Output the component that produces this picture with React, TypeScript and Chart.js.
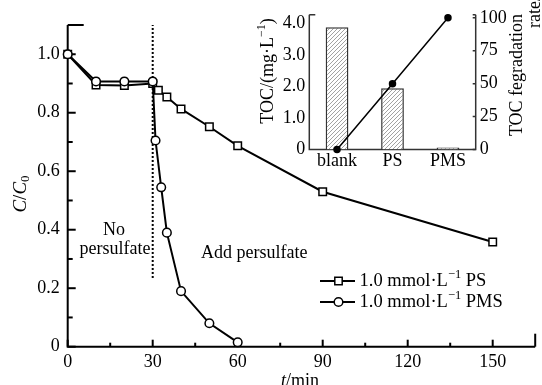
import React, { useEffect, useRef } from 'react';
import { Chart, registerables } from 'chart.js';
Chart.register(...registerables);

const FONT = "'Liberation Serif', 'Times New Roman', serif";

// Main chart data
const psTime = [0, 10, 20, 30, 32, 35, 40, 50, 60, 90, 150];
const psValues = [1.0, 0.895, 0.893, 0.9, 0.877, 0.854, 0.813, 0.752, 0.687, 0.53, 0.358];
const pmsTime = [0, 10, 20, 30, 31, 33, 35, 40, 50, 60];
const pmsValues = [1.0, 0.907, 0.907, 0.907, 0.705, 0.545, 0.39, 0.19, 0.08, 0.015];
const xTicks = [0, 15, 30, 45, 60, 75, 90, 105, 120, 135, 150, 165];
const xTickLabels = ['0', '', '30', '', '60', '', '90', '', '120', '', '150', ''];
const yTicks = [0, 0.1, 0.2, 0.3, 0.4, 0.5, 0.6, 0.7, 0.8, 0.9, 1.0, 1.1];
const yTickLabels = ['0', '', '0.2', '', '0.4', '', '0.6', '', '0.8', '', '1.0', ''];
const legendLabels = ['1.0 mmol·L', '1.0 mmol·L'];
const legendSuffix = [' PS', ' PMS'];

// Inset data
const tocCategories = ['blank', 'PS', 'PMS'];
const tocValues = [3.875, 1.94, 0.06];
const tocRate = [0, 50, 100];
const tocTicks = [0, 1, 2, 3, 4];
const tocTickLabels = ['0', '1.0', '2.0', '3.0', '4.0'];
const rateTicks = [0, 25, 50, 75, 100];

function drawRich(ctx: CanvasRenderingContext2D, parts: { t: string; f: string; dy?: number }[], x: number, y: number, align: 'left' | 'center') {
  let w = 0;
  for (const p of parts) { ctx.font = p.f; w += ctx.measureText(p.t).width; }
  let cx = align === 'center' ? x - w / 2 : x;
  ctx.textAlign = 'left';
  for (const p of parts) {
    ctx.font = p.f;
    ctx.fillText(p.t, cx, y + (p.dy || 0));
    cx += ctx.measureText(p.t).width;
  }
}

export default function App() {
  const mainRef = useRef<HTMLCanvasElement>(null);
  const insetRef = useRef<HTMLCanvasElement>(null);

  useEffect(() => {
    document.body.style.margin = '0';
    Chart.defaults.font.family = FONT;
    Chart.defaults.color = '#000';

    const mainDecor = {
      id: 'mainDecor',
      beforeDatasetsDraw(chart: any) {
        const ctx = chart.ctx as CanvasRenderingContext2D;
        const a = chart.chartArea;
        const xs = chart.scales.x;
        const ys = chart.scales.y;
        ctx.save();
        ctx.strokeStyle = '#000';
        ctx.lineWidth = 2;
        ctx.beginPath();
        ctx.moveTo(a.left, a.top);
        ctx.lineTo(a.left, a.bottom);
        ctx.lineTo(a.right, a.bottom);
        ctx.stroke();
        // y ticks (inward)
        yTicks.forEach((v, i) => {
          const py = ys.getPixelForValue(v);
          let len = yTickLabels[i] ? 8 : 5;
          if (i === yTicks.length - 1) len = 16;
          ctx.beginPath();
          ctx.moveTo(a.left, py);
          ctx.lineTo(a.left + len, py);
          ctx.stroke();
        });
        xTicks.forEach((v, i) => {
          const px = xs.getPixelForValue(v);
          let len = xTickLabels[i] ? 7 : 4;
          if (i === xTicks.length - 1) len = 13;
          ctx.beginPath();
          ctx.moveTo(px, a.bottom);
          ctx.lineTo(px, a.bottom - len);
          ctx.stroke();
        });
        // dotted divider at t = 30
        const dx = xs.getPixelForValue(30);
        ctx.setLineDash([2, 2]);
        ctx.beginPath();
        ctx.moveTo(dx, ys.getPixelForValue(0.235));
        ctx.lineTo(dx, ys.getPixelForValue(1.1));
        ctx.stroke();
        ctx.restore();
      },
      afterDraw(chart: any) {
        const ctx = chart.ctx as CanvasRenderingContext2D;
        ctx.save();
        ctx.fillStyle = '#000';
        ctx.textBaseline = 'middle';
        ctx.font = `18px ${FONT}`;
        ctx.textAlign = 'center';
        ctx.fillText('No', 114, 230);
        ctx.fillText('persulfate', 115, 249);
        ctx.textAlign = 'left';
        ctx.fillText('Add persulfate', 201, 253);

        // legend
        const rows = [281, 302];
        const styles = ['rect', 'circle'];
        rows.forEach((ry, i) => {
          ctx.strokeStyle = '#000';
          ctx.lineWidth = 2;
          ctx.beginPath();
          ctx.moveTo(320, ry);
          ctx.lineTo(355, ry);
          ctx.stroke();
          ctx.fillStyle = '#fff';
          ctx.lineWidth = 1.5;
          ctx.beginPath();
          if (styles[i] === 'rect') ctx.rect(338.5 - 3.7, ry - 3.7, 7.4, 7.4);
          else ctx.arc(338.5, ry, 4.3, 0, Math.PI * 2);
          ctx.fill();
          ctx.stroke();
          ctx.fillStyle = '#000';
          ctx.textBaseline = 'middle';
          drawRich(ctx, [
            { t: legendLabels[i], f: `18.5px ${FONT}` },
            { t: '−1', f: `12.5px ${FONT}`, dy: -6 },
            { t: legendSuffix[i], f: `18.5px ${FONT}` },
          ], 359.5, ry, 'left');
        });

        // y title
        ctx.save();
        ctx.translate(21, 194);
        ctx.rotate(-Math.PI / 2);
        ctx.textBaseline = 'middle';
        drawRich(ctx, [
          { t: 'C', f: `italic 19px ${FONT}` },
          { t: '/', f: `19px ${FONT}` },
          { t: 'C', f: `italic 19px ${FONT}` },
          { t: '0', f: `13px ${FONT}`, dy: 5 },
        ], 0, 0, 'center');
        ctx.restore();

        // x title
        ctx.textBaseline = 'alphabetic';
        drawRich(ctx, [
          { t: 't', f: `italic 18px ${FONT}` },
          { t: '/min', f: `18px ${FONT}` },
        ], 300, 386, 'center');
        ctx.restore();
      },
    };

    const main = new Chart(mainRef.current!, {
      type: 'line',
      data: {
        datasets: [
          {
            label: '1.0 mmol·L−1 PMS',
            data: pmsTime.map((t, i) => ({ x: t, y: pmsValues[i] })),
            borderColor: '#000',
            borderWidth: 2,
            pointStyle: 'circle',
            pointRadius: 4.3,
            pointBackgroundColor: '#fff',
            pointBorderColor: '#000',
            pointBorderWidth: 1.5,
            tension: 0,
            clip: false,
            order: 0,
          },
          {
            label: '1.0 mmol·L−1 PS',
            data: psTime.map((t, i) => ({ x: t, y: psValues[i] })),
            borderColor: '#000',
            borderWidth: 2,
            pointStyle: 'rect',
            pointRadius: 5.3,
            pointBackgroundColor: '#fff',
            pointBorderColor: '#000',
            pointBorderWidth: 1.5,
            tension: 0,
            clip: false,
            order: 1,
          },
        ],
      },
      options: {
        animation: false,
        responsive: false,
        events: [],
        layout: { padding: { top: 25, right: 0, left: 0, bottom: 0 } },
        plugins: { legend: { display: false }, tooltip: { enabled: false } },
        scales: {
          x: {
            type: 'linear',
            min: 0,
            max: 165,
            afterBuildTicks: (s: any) => { s.ticks = xTicks.map((v) => ({ value: v })); },
            afterFit: (s: any) => { s.height = 38.3; },
            grid: { display: false, drawTicks: false },
            border: { display: false },
            ticks: {
              autoSkip: false,
              maxRotation: 0,
              padding: 5,
              font: { size: 18, family: FONT },
              color: '#000',
              callback: (v: any, i: number) => xTickLabels[i],
            },
          },
          y: {
            type: 'linear',
            min: 0,
            max: 1.1,
            afterBuildTicks: (s: any) => { s.ticks = yTicks.map((v) => ({ value: v })); },
            afterFit: (s: any) => { s.width = 67.7; },
            grid: { display: false, drawTicks: false },
            border: { display: false },
            ticks: {
              autoSkip: false,
              padding: 8,
              font: { size: 18, family: FONT },
              color: '#000',
              callback: (v: any, i: number) => yTickLabels[i],
            },
          },
        },
      },
      plugins: [mainDecor],
    } as any);

    // hatch pattern for inset bars
    const pc = document.createElement('canvas');
    pc.width = 4;
    pc.height = 4;
    const g = pc.getContext('2d')!;
    g.fillStyle = '#fff';
    g.fillRect(0, 0, 4, 4);
    g.strokeStyle = '#8a8a8a';
    g.lineWidth = 0.8;
    g.beginPath();
    g.moveTo(0, 4); g.lineTo(4, 0);
    g.moveTo(-1, 1); g.lineTo(1, -1);
    g.moveTo(3, 5); g.lineTo(5, 3);
    g.stroke();
    const pattern = insetRef.current!.getContext('2d')!.createPattern(pc, 'repeat');

    const insetDecor = {
      id: 'insetDecor',
      beforeDatasetsDraw(chart: any) {
        const ctx = chart.ctx as CanvasRenderingContext2D;
        const a = chart.chartArea;
        const y1 = chart.scales.y1;
        ctx.save();
        ctx.strokeStyle = '#333';
        ctx.lineWidth = 1.5;
        ctx.beginPath();
        ctx.moveTo(a.left, a.top);
        ctx.lineTo(a.left, a.bottom);
        ctx.lineTo(a.right, a.bottom);
        ctx.lineTo(a.right, a.top);
        ctx.stroke();
        ctx.beginPath();
        ctx.moveTo(a.left, a.top);
        ctx.lineTo(a.left + 6, a.top);
        ctx.moveTo(a.right, a.top);
        ctx.lineTo(a.right - 3, a.top);
        rateTicks.forEach((v) => {
          const py = y1.getPixelForValue(v);
          ctx.moveTo(a.right, py);
          ctx.lineTo(a.right - 3, py);
        });
        ctx.stroke();
        ctx.restore();
      },
      afterDraw(chart: any) {
        const ctx = chart.ctx as CanvasRenderingContext2D;
        ctx.save();
        ctx.fillStyle = '#000';
        ctx.textBaseline = 'middle';
        // left title
        ctx.save();
        ctx.translate(18, 71);
        ctx.rotate(-Math.PI / 2);
        drawRich(ctx, [
          { t: 'TOC/(mg·L', f: `18px ${FONT}` },
          { t: '−1', f: `12px ${FONT}`, dy: -6 },
          { t: ')', f: `18px ${FONT}` },
        ], 0, 0, 'center');
        ctx.restore();
        // right title
        ctx.save();
        ctx.translate(267, 75);
        ctx.rotate(-Math.PI / 2);
        ctx.font = `18px ${FONT}`;
        ctx.textAlign = 'center';
        ctx.fillText('TOC fegradation', 0, 0);
        ctx.restore();
        ctx.save();
        ctx.translate(285, 28);
        ctx.rotate(-Math.PI / 2);
        ctx.font = `18px ${FONT}`;
        ctx.textAlign = 'left';
        ctx.fillText('rate/%', 0, 0);
        ctx.restore();
        ctx.restore();
      },
    };

    const inset = new Chart(insetRef.current!, {
      type: 'bar',
      data: {
        labels: tocCategories,
        datasets: [
          {
            type: 'line',
            label: 'TOC degradation rate',
            data: tocRate,
            yAxisID: 'y1',
            borderColor: '#000',
            borderWidth: 1.5,
            pointRadius: 3,
            pointBackgroundColor: '#000',
            pointBorderColor: '#000',
            clip: false,
            order: 0,
          },
          {
            type: 'bar',
            label: 'TOC',
            data: tocValues,
            yAxisID: 'y',
            backgroundColor: pattern,
            borderColor: '#333',
            borderWidth: 1.5,
            categoryPercentage: 1,
            barPercentage: 0.41,
            order: 1,
          },
        ],
      },
      options: {
        animation: false,
        responsive: false,
        events: [],
        layout: { padding: { top: 13, right: 0, left: 0, bottom: 0 } },
        plugins: { legend: { display: false }, tooltip: { enabled: false } },
        scales: {
          x: {
            type: 'category',
            offset: true,
            afterFit: (s: any) => { s.height = 20.5; },
            grid: { display: false, drawTicks: false },
            border: { display: false },
            ticks: { padding: 1, font: { size: 18, family: FONT }, color: '#000', maxRotation: 0, autoSkip: false },
          },
          y: {
            type: 'linear',
            position: 'left',
            min: 0,
            max: 4.27,
            afterBuildTicks: (s: any) => { s.ticks = tocTicks.map((v) => ({ value: v })); },
            afterFit: (s: any) => { s.width = 59.3; },
            grid: { display: false, drawTicks: false },
            border: { display: false },
            ticks: {
              padding: 4,
              font: { size: 18, family: FONT },
              color: '#000',
              callback: (v: any, i: number) => tocTickLabels[i],
            },
          },
          y1: {
            type: 'linear',
            position: 'right',
            min: 0,
            max: 102.3,
            afterBuildTicks: (s: any) => { s.ticks = rateTicks.map((v) => ({ value: v })); },
            afterFit: (s: any) => { s.width = 66.3; },
            grid: { display: false, drawTicks: false },
            border: { display: false },
            ticks: {
              padding: 4,
              font: { size: 18, family: FONT },
              color: '#000',
              callback: (v: any) => String(v),
            },
          },
        },
      },
      plugins: [insetDecor],
    } as any);

    return () => {
      main.destroy();
      inset.destroy();
    };
  }, []);

  return (
    <div style={{ position: 'relative', width: 542, height: 385, overflow: 'hidden', background: '#fff' }}>
      <canvas ref={mainRef} width={542} height={385} style={{ position: 'absolute', left: 0, top: 0 }} />
      <canvas ref={insetRef} width={292} height={170} style={{ position: 'absolute', left: 250, top: 0 }} />
    </div>
  );
}
